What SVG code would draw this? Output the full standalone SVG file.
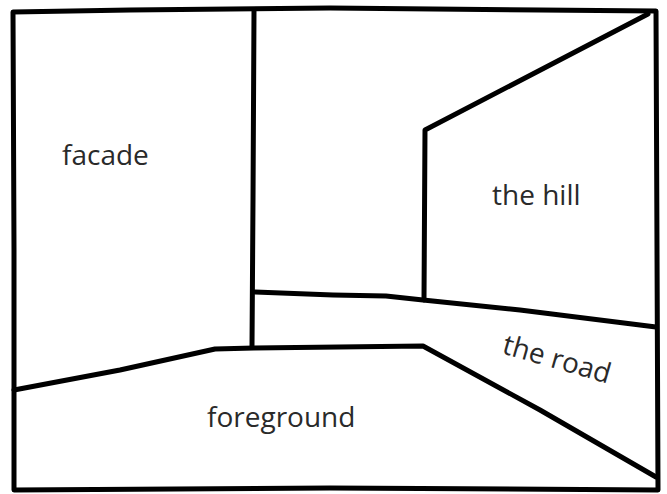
<svg xmlns="http://www.w3.org/2000/svg" width="667" height="494" viewBox="0 0 667 494">
<style>
.ln{fill:none;stroke:#000;stroke-width:5;stroke-linejoin:round;stroke-linecap:round}
.lb{font-family:"Open Sans","Noto Sans","Liberation Sans",sans-serif;font-size:28px;fill:#2a2a2a}
</style>
<rect width="667" height="494" fill="#fff"/>
<g id="frame">
<path class="ln" d="M13,12 L130,10 L330,8 L540,10 L656,11 L657,250 L658,490 L330,488 L14,490 L14,250 Z"/>
</g>
<g id="lines">
<path class="ln" d="M254,11 L253,200 L252,347"/>
<path class="ln" d="M14,390 L120,370 L215,349 L254,348 L423,346 L540,410 L656,477"/>
<path class="ln" d="M255,292 L333,295 L386,296 L423,300 L520,310 L656,327"/>
<path class="ln" d="M424,300 L425,130 L648,14"/>
</g>
<g id="labels">
<text class="lb" x="62" y="165">facade</text>
<text class="lb" x="492" y="205">the hill</text>
<text class="lb" x="207" y="427">foreground</text>
<text class="lb" transform="translate(501,353) rotate(16)">the road</text>
</g>
</svg>
